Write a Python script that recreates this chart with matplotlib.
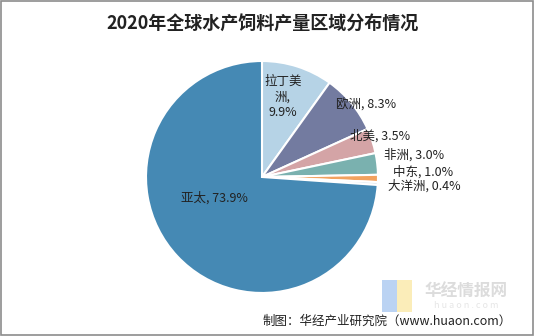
import matplotlib.pyplot as plt
from matplotlib.patches import Rectangle

plt.rcParams['font.family'] = ['Noto Sans CJK SC', 'DejaVu Sans']

# 数据（按图中顺时针顺序，从12点方向开始）
regions = ['拉丁美洲', '欧洲', '北美', '非洲', '中东', '大洋洲', '亚太']
shares = [9.9, 8.3, 3.5, 3.0, 1.0, 0.4, 73.9]
label_texts = ['拉丁美\n洲,\n9.9%', '欧洲, 8.3%', '北美, 3.5%', '非洲, 3.0%',
               '中东, 1.0%', '大洋洲, 0.4%', '亚太, 73.9%']
colors = ['#B6D3E6', '#737BA0', '#D4A4A6', '#7AB1AF', '#F2A25F', '#D6E2EB', '#4589B4']

# 标签位置（以饼图半径为单位）
label_pos = [(0.18, 0.69), (0.90, 0.62), (1.02, 0.35), (1.31, 0.19),
             (1.39, 0.04), (1.40, -0.08), (-0.41, -0.18)]

fig = plt.figure(figsize=(5.35, 3.36), dpi=100)
fig.patches.append(Rectangle((0.002, 0.003), 0.995, 0.994, transform=fig.transFigure,
                             fill=False, edgecolor='#8c8c8c', linewidth=1.2))

# 水印
fig.patches.append(Rectangle((0.714, 0.071), 0.028, 0.095, transform=fig.transFigure,
                             facecolor='#aac8f0', edgecolor='none', alpha=0.8))
fig.patches.append(Rectangle((0.742, 0.071), 0.028, 0.095, transform=fig.transFigure,
                             facecolor='#fbe9a8', edgecolor='none', alpha=0.8))
fig.text(0.872, 0.131, '华经情报网', ha='center', va='center', fontsize=12,
         fontweight='bold', color='#dcdcdc')
fig.text(0.872, 0.09, 'h u a o n . c o m', ha='center', va='center', fontsize=6.5,
         color='#e6e6e6')

ax = fig.add_axes([0.2729, 0.128, 0.4336, 0.6905])
ax.pie(shares, colors=colors, startangle=90, counterclock=False, radius=1,
       wedgeprops=dict(edgecolor='white', linewidth=1.5))
ax.set_xlim(-1, 1)
ax.set_ylim(-1, 1)
ax.set_aspect('equal')
ax.axis('off')

for txt, (x, y) in zip(label_texts, label_pos):
    ax.text(x, y, txt, ha='center', va='center', fontsize=9, color='#222222',
            linespacing=1.25, clip_on=False)

fig.text(0.49, 0.928, '2020年全球水产饲料产量区域分布情况', ha='center', va='center',
         fontsize=13, fontweight='bold', color='#222222')

fig.text(0.957, 0.045, '制图：华经产业研究院（www.huaon.com）', ha='right', va='center',
         fontsize=9, color='#222222')

fig.savefig('out.png', dpi=100)
